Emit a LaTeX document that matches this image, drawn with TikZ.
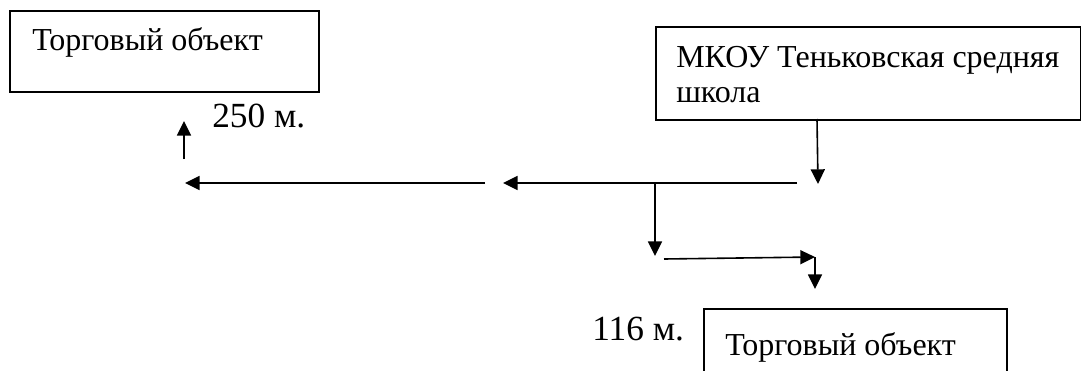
\documentclass[tikz,border=0pt]{standalone}
\usepackage{fontspec}
\setmainfont{Liberation Serif}
\usetikzlibrary{arrows.meta}
\tikzset{
  boxshape/.style={draw, line width=1.2pt, inner sep=0pt, anchor=north west},
  boxtext/.style={inner sep=0pt, anchor=base west, font=\fontsize{24pt}{28pt}\selectfont},
  distlabel/.style={inner sep=0pt, anchor=base west, font=\fontsize{26.5pt}{31pt}\selectfont},
  conn/.style={line width=1.2pt, -{Triangle[length=11pt,width=10.5pt]}},
  plain/.style={line width=1.2pt}
}
\begin{document}
\begin{tikzpicture}[x=0.75pt,y=-0.75pt]
\useasboundingbox (0,0) rectangle (1081,371);
\clip (0,0) rectangle (1081,371);
% boxes
\node[boxshape, minimum width=309*0.75pt, minimum height=81*0.75pt] (shop1) at (9,10) {};
\node[boxshape, minimum width=425*0.75pt, minimum height=93*0.75pt] (school) at (655,26) {};
\node[boxshape, minimum width=303*0.75pt, minimum height=90*0.75pt] (shop2) at (703,308) {};
% texts
\node[boxtext] (t1) at (32,50) {Торговый объект};
\node[boxtext] (t2a) at (676,67) {МКОУ Теньковская средняя};
\node[boxtext] (t2b) at (676,102) {школа};
\node[boxtext] (t3) at (725,355) {Торговый объект};
\node[distlabel] (d1) at (212,127) {250 м.};
\node[distlabel] (d2) at (592,340) {116 м.};
% coordinates
\coordinate (s0) at (817,119);
\coordinate (s1) at (818,184);
\coordinate (h1a) at (797,183);
\coordinate (h1b) at (503,183);
\coordinate (h2a) at (485,183);
\coordinate (h2b) at (185,183);
\coordinate (u0) at (184,159);
\coordinate (u1) at (184,121);
\coordinate (b0) at (655,183);
\coordinate (b1) at (655,256);
\coordinate (r0) at (664,259);
\coordinate (r1) at (815,257);
\coordinate (q1) at (815,289);
% connectors
\draw[conn] (s0) -- (s1);
\draw[conn] (h1a) -- (h1b);
\draw[conn] (h2a) -- (h2b);
\draw[conn] (u0) -- (u1);
\draw[conn] (b0) -- (b1);
\draw[conn] (r0) -- (r1);
\draw[conn] (r1) -- (q1);
\end{tikzpicture}
\end{document}
